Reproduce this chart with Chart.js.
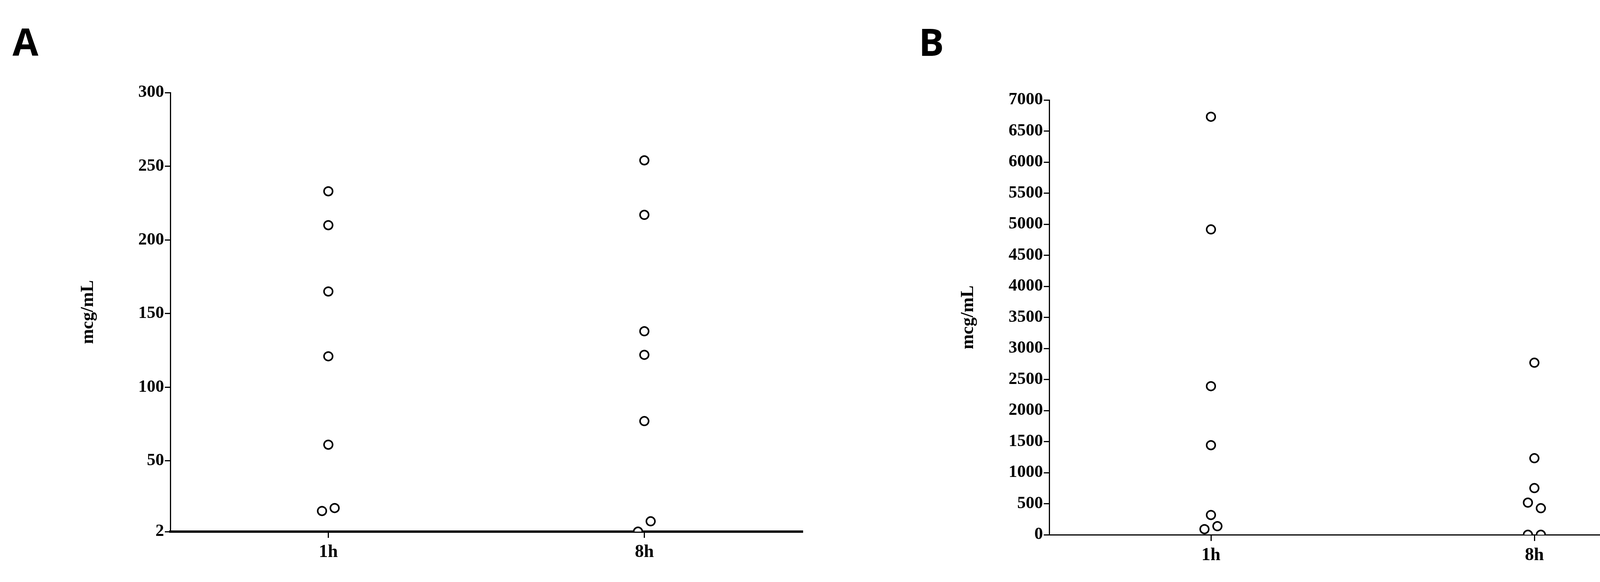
<!DOCTYPE html>
<html>
<head>
<meta charset="utf-8">
<script src="https://cdn.jsdelivr.net/npm/chart.js"></script>
<style>
  html, body { margin: 0; padding: 0; overflow: hidden; }
  body { background: #fff; width: 4357px; height: 1490px; position: relative; }
  canvas { position: absolute; top: 0; display: block; }
  .letter { position: absolute; top: 40px; font: bold 96px "Open Sans", sans-serif; color: #000; }
</style>
</head>
<body>
<div class="letter" style="left:32px">A</div>
<div class="letter" style="left:2352px">B</div>
<canvas id="chartA" width="2100" height="1490" style="left:0;width:2100px;height:1490px"></canvas>
<canvas id="chartB" width="2177" height="1490" style="left:2180px;width:2177px;height:1490px"></canvas>
<script>
// groups (x positions 0.5 and 1.5 on a 0..2 axis), small offsets mimic the scatter jitter
const groups = ['1h', '8h'];
const groupPos = [0.5, 1.5];

// Panel A values (mcg/mL)
const aX = [0.5, 0.5, 0.5, 0.5, 0.5, 0.48, 0.52, 1.5, 1.5, 1.5, 1.5, 1.5, 1.48, 1.52];
const aY = [233, 210, 165, 121, 61, 16, 18, 254, 217, 138, 122, 77, 2, 9];
const aTicks = [2, 50, 100, 150, 200, 250, 300];

// Panel B values (mcg/mL)
const bX = [0.5, 0.5, 0.5, 0.5, 0.5, 0.48, 0.52, 1.5, 1.5, 1.5, 1.48, 1.52, 1.48, 1.52];
const bY = [6730, 4916, 2392, 1442, 318, 90, 138, 2770, 1232, 751, 517, 427, 0, 0];

Chart.defaults.font.family = '"Liberation Serif", "Times New Roman", serif';
Chart.defaults.font.weight = 'bold';
Chart.defaults.color = '#000';

function makeChart(id, xs, ys, yOpts, pad, yWidth, xHeight, xBorder) {
  return new Chart(document.getElementById(id), {
    type: 'scatter',
    data: {
      datasets: [{
        data: xs.map((x, i) => ({ x: x, y: ys[i] })),
        pointRadius: 11,
        pointBorderWidth: 4,
        pointBorderColor: '#000',
        pointBackgroundColor: '#fff'
      }]
    },
    options: {
      responsive: false,
      devicePixelRatio: 1,
      animation: false,
      layout: { padding: pad },
      plugins: { legend: { display: false }, tooltip: { enabled: false } },
      scales: {
        x: {
          type: 'linear', min: 0, max: 2,
          afterBuildTicks: s => { s.ticks = groupPos.map(v => ({ value: v })); },
          afterFit: s => { s.height = xHeight; },
          ticks: { font: { size: 46 }, padding: 10, callback: (v) => groups[groupPos.indexOf(v)] },
          grid: { drawOnChartArea: false, tickLength: 16, tickColor: '#000', lineWidth: 3 },
          border: { color: '#000', width: xBorder }
        },
        y: Object.assign({
          afterFit: s => { s.width = yWidth; },
          title: { display: true, text: 'mcg/mL', font: { size: 46 } },
          grid: { drawOnChartArea: false, tickLength: 14, tickColor: '#000', lineWidth: 3 },
          border: { color: '#000', width: 3 }
        }, yOpts)
      }
    }
  });
}

makeChart('chartA', aX, aY, {
  min: 2, max: 300,
  ticks: { font: { size: 44 }, padding: 2, callback: v => String(v) },
  afterBuildTicks: s => { s.ticks = aTicks.map(v => ({ value: v })); }
}, { left: 195, right: 46, top: 237, bottom: 0 }, 241, 129, 6);

makeChart('chartB', bX, bY, {
  min: 0, max: 7000,
  ticks: { font: { size: 44 }, padding: 2, stepSize: 500, callback: v => String(v) }
}, { left: 268, right: 12, top: 256, bottom: 0 }, 238, 121, 3);
</script>
</body>
</html>
